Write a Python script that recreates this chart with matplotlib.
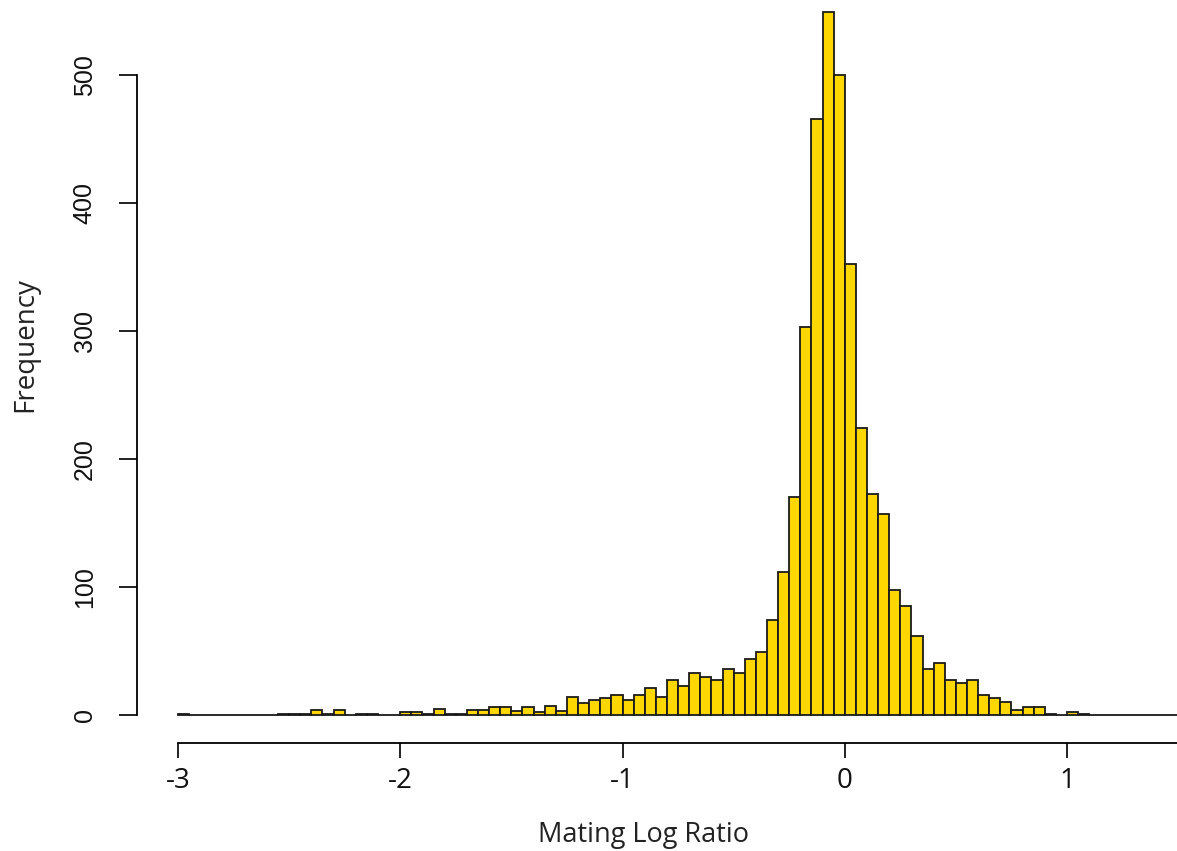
import matplotlib
matplotlib.use("Agg")
import matplotlib.pyplot as plt
import numpy as np

# Histogram data: bins of width 0.05 from -3.0 to 1.5
bin_start = -3.0
bin_width = 0.05
counts = [
    1, 0, 0, 0, 0, 0, 0, 0, 0, 1,
    1, 1, 4, 1, 4, 0, 1, 1, 0, 0,
    2, 2, 1, 5, 1, 1, 4, 4, 6, 6,
    3, 6, 2, 7, 3, 14, 9, 12, 13, 16,
    12, 16, 21, 14, 27, 23, 33, 30, 27, 36,
    33, 44, 49, 74, 112, 170, 303, 466, 549, 500,
    352, 224, 173, 157, 98, 85, 62, 36, 41, 27,
    25, 27, 16, 13, 10, 4, 6, 6, 1, 0,
    2, 1, 0, 0, 0, 0, 0, 0, 0, 0,
]
x_ticks = [-3, -2, -1, 0, 1]
x_tick_labels = ["-3", "-2", "-1", "0", "1"]
y_ticks = [0, 100, 200, 300, 400, 500]
y_tick_labels = ["0", "100", "200", "300", "400", "500"]
x_label = "Mating Log Ratio"
y_label = "Frequency"

W, H = 1177, 851
fig = plt.figure(figsize=(W / 100, H / 100), dpi=100)
fig.patch.set_facecolor("white")

# axes placement in pixels
ax_left_px, ax_right_px = 137, 1178
ax_top_px, ax_bottom_px = 0, 743
ax = fig.add_axes([ax_left_px / W, (H - ax_bottom_px) / H,
                   (ax_right_px - ax_left_px) / W, (ax_bottom_px - ax_top_px) / H])

edges = bin_start + bin_width * np.arange(len(counts))
ax.bar(edges, counts, width=bin_width, align="edge",
       color="#FFD700", edgecolor="#1a1a1a", linewidth=1.3)

px_per_x = (1067 - 178) / 4.0
px_per_y = (715 - 75) / 500.0
ax.set_xlim(-3 - (178 - ax_left_px) / px_per_x, -3 + (ax_right_px - 178) / px_per_x)
ax.set_ylim(-(ax_bottom_px - 715) / px_per_y, (715 - ax_top_px) / px_per_y)

for s in ["top", "right"]:
    ax.spines[s].set_visible(False)
ax.spines["left"].set_bounds(0, 500)
ax.spines["bottom"].set_bounds(-3, 1.5)
ax.spines["left"].set_linewidth(1.3)
ax.spines["bottom"].set_linewidth(1.3)

ax.set_xticks(x_ticks)
ax.set_xticklabels(x_tick_labels, fontfamily="Open Sans", fontsize=20)
ax.set_yticks(y_ticks)
ax.set_yticklabels(y_tick_labels, fontfamily="Liberation Sans", fontsize=18,
                   rotation=90, va="center")
ax.tick_params(axis="x", length=11, width=1.3, pad=6, colors="#111111")
ax.tick_params(axis="y", length=13, width=1.3, pad=16, colors="#111111")

fig.text(643 / W, 1 - 835 / H, x_label, ha="center", va="center",
         fontfamily="Open Sans", fontsize=19.5, color="#222222")
fig.text(25 / W, 1 - 345 / H, y_label, ha="center", va="center", rotation=90,
         fontfamily="Open Sans", fontsize=20, color="#222222")

fig.savefig("out.png", dpi=100)
